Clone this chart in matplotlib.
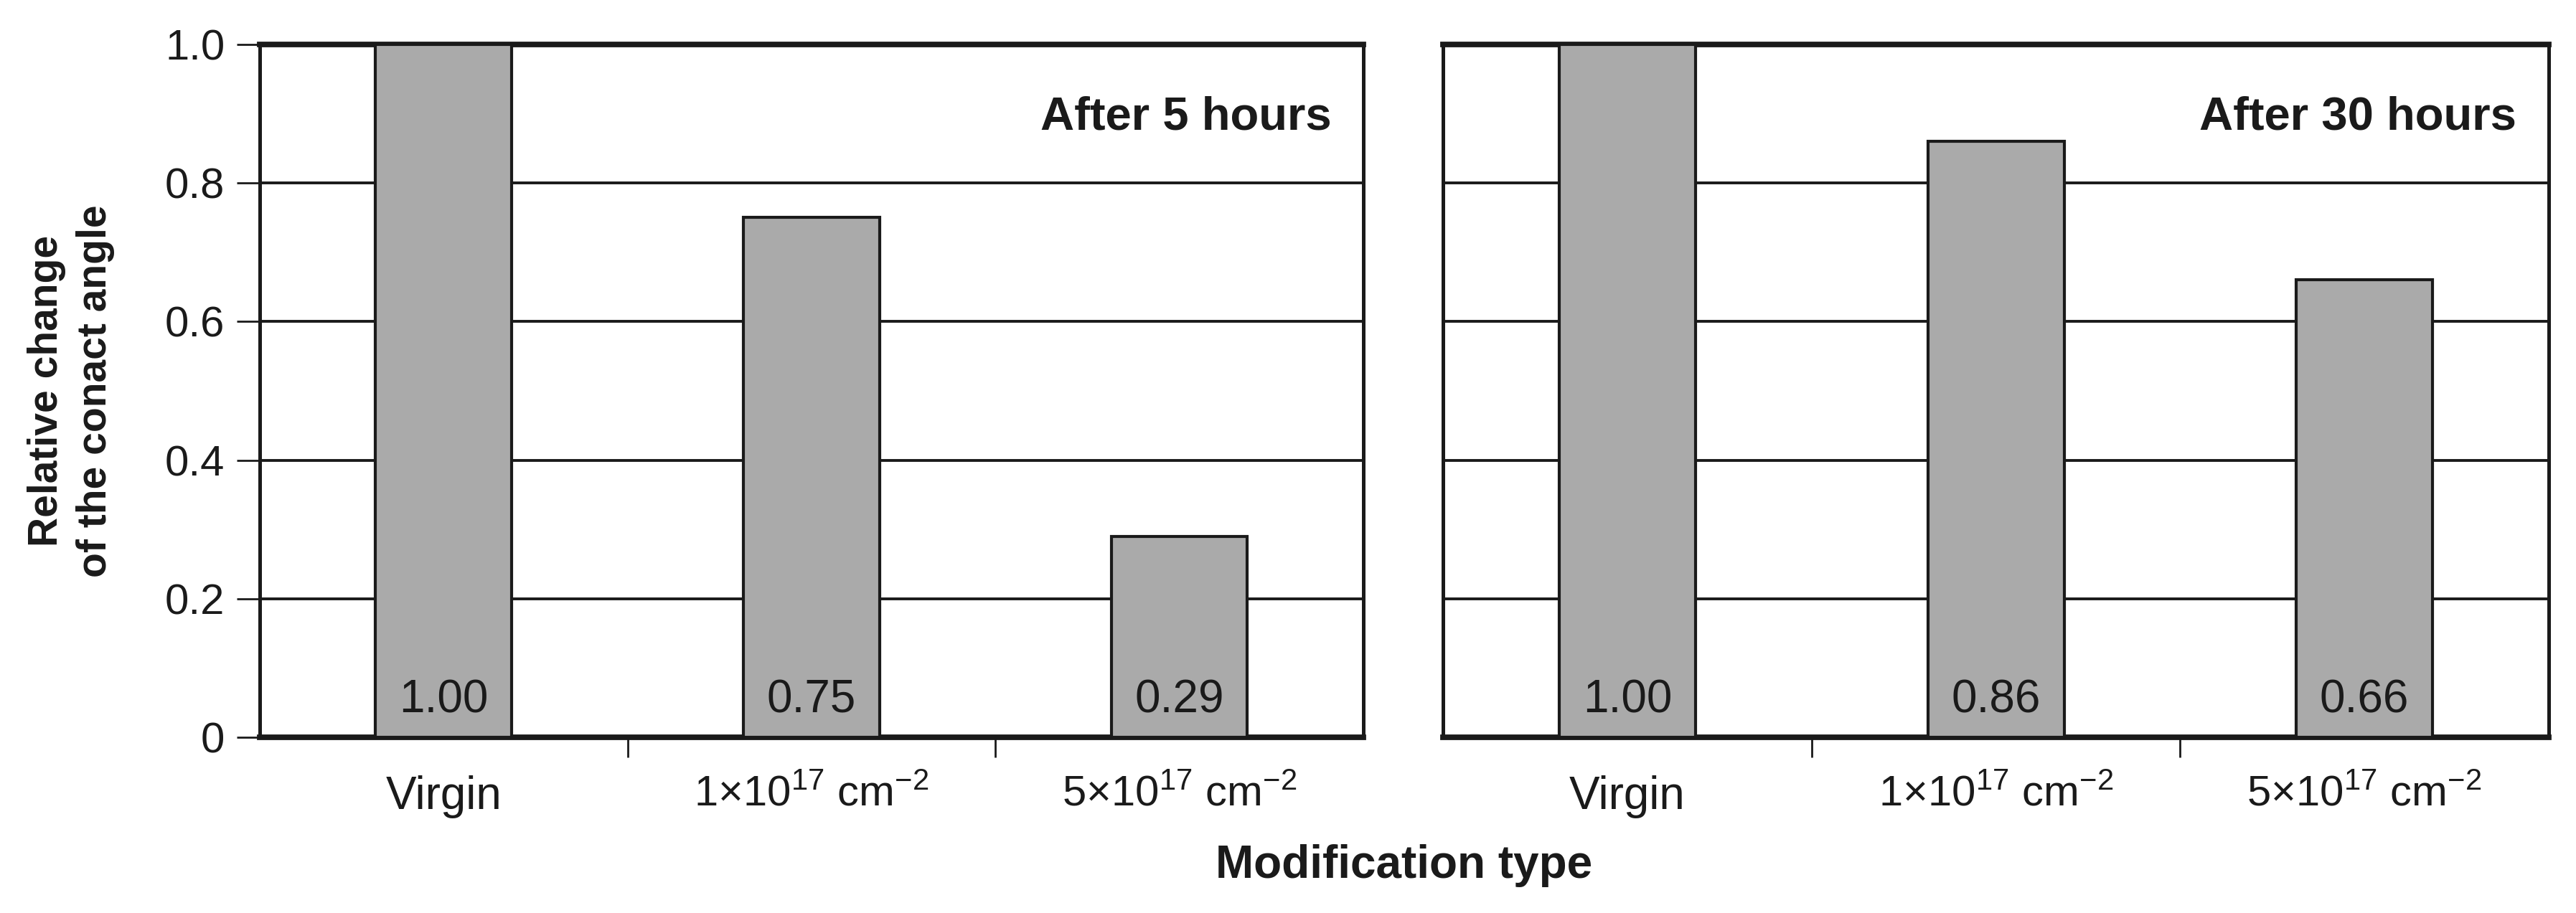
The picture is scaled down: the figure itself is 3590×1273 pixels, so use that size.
import matplotlib
matplotlib.use("Agg")
import matplotlib.pyplot as plt
import numpy as np

# data
categories = ["Virgin", r"$1{\times}10^{17}$ cm$^{-2}$", r"$5{\times}10^{17}$ cm$^{-2}$"]
after_5h = [1.00, 0.75, 0.29]
after_30h = [1.00, 0.86, 0.66]
panel_titles = ["After 5 hours", "After 30 hours"]
y_ticks = [0, 0.2, 0.4, 0.6, 0.8, 1.0]
y_ticklabels = ["0", "0.2", "0.4", "0.6", "0.8", "1.0"]

REG = ["Liberation Sans", "DejaVu Sans"]
NARROW = ["Liberation Sans Narrow", "Liberation Sans", "DejaVu Sans"]
INK = "#1a1a1a"
BAR = "#aaaaaa"

plt.rcParams["font.family"] = NARROW
plt.rcParams["mathtext.fontset"] = "custom"
plt.rcParams["mathtext.rm"] = "Liberation Sans"
plt.rcParams["mathtext.it"] = "Liberation Sans:italic"
plt.rcParams["mathtext.bf"] = "Liberation Sans:bold"

fig = plt.figure(figsize=(17.95, 6.365), dpi=200)
ax1 = fig.add_axes([0.1008, 0.1925, 0.4284, 0.7588])
ax2 = fig.add_axes([0.5602, 0.1925, 0.4292, 0.7588])

x = np.arange(len(categories))

for ax, vals, title, first in [(ax1, after_5h, panel_titles[0], True),
                                (ax2, after_30h, panel_titles[1], False)]:
    ax.set_xlim(-0.5, 2.5)
    ax.set_ylim(0, 1.0)
    ax.set_axisbelow(True)
    ax.yaxis.grid(True, color=INK, linewidth=1.4)
    ax.bar(x, vals, width=0.37, color=BAR, edgecolor=INK, linewidth=1.5, zorder=3)

    for xi, v in zip(x, vals):
        fam = REG if xi == 0 else NARROW
        ax.text(xi, 0.022, f"{v:.2f}", ha="center", va="bottom",
                fontsize=23, color=INK, family=fam, zorder=4)

    ax.text(0.971, 0.895, title, transform=ax.transAxes, ha="right", va="center",
            fontsize=23.5, fontweight="bold", color=INK)

    for side in ["top", "bottom"]:
        ax.spines[side].set_linewidth(2.8)
        ax.spines[side].set_color(INK)
    for side in ["left", "right"]:
        ax.spines[side].set_linewidth(1.8)
        ax.spines[side].set_color(INK)

    # category labels on major ticks, separators on minor ticks
    ax.set_xticks(x)
    ax.set_xticklabels(categories)
    ax.set_xticks([0.5, 1.5], minor=True)
    ax.tick_params(axis="x", which="major", length=0, pad=19, labelsize=23, labelcolor=INK)
    ax.tick_params(axis="x", which="minor", length=10, width=1.0, color=INK, direction="out")
    for i, lab in enumerate(ax.get_xticklabels()):
        if i == 0:
            lab.set_family(REG)
        else:
            lab.set_fontsize(21.5)

    ax.set_yticks(y_ticks)
    if first:
        ax.set_yticklabels(y_ticklabels, family=REG)
        ax.tick_params(axis="y", length=11.5, width=1.0, color=INK, pad=6,
                       labelsize=21.5, labelcolor=INK, direction="out")
    else:
        ax.set_yticklabels([])
        ax.tick_params(axis="y", length=0)

fig.text(0.0276, 0.572, "Relative change\nof the conact angle", rotation=90,
         ha="center", va="center", fontsize=20.5, fontweight="bold", color=INK,
         linespacing=1.35)
fig.text(0.545, 0.052, "Modification type", ha="center", va="center",
         fontsize=23, fontweight="bold", color=INK)

fig.savefig("out.png", dpi=200)
